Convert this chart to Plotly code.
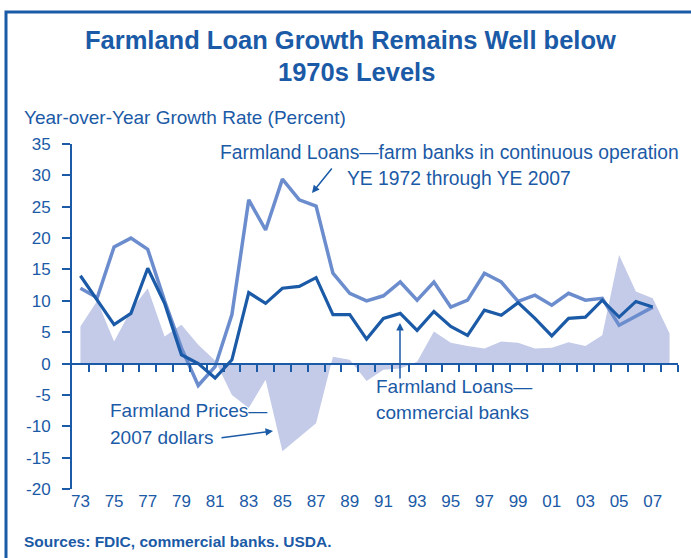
import plotly.graph_objects as go

# ---------------- data ----------------
years_loans = list(range(1973, 2008))
farm_banks = [12.0, 10.5, 18.6, 20.0, 18.2, 10.0, 2.5, -3.5, -0.5, 7.8,
              26.1, 21.3, 29.4, 26.1, 25.1, 14.4, 11.2, 10.0, 10.8, 13.0,
              10.1, 13.0, 9.0, 10.1, 14.4, 13.0, 9.9, 10.9, 9.3, 11.2,
              10.1, 10.4, 6.1, 7.6, 9.0]
commercial_banks = [14.0, 10.0, 6.2, 8.0, 15.2, 9.6, 1.4, 0.0, -2.3, 0.6,
                    11.3, 9.6, 12.0, 12.3, 13.7, 7.8, 7.8, 3.9, 7.2, 8.0,
                    5.3, 8.3, 5.9, 4.5, 8.5, 7.7, 9.7, 7.2, 4.4, 7.2,
                    7.4, 10.1, 7.4, 9.9, 9.0]
years_prices = list(range(1973, 2009))
farmland_prices = [5.9, 10.0, 3.5, 8.5, 12.0, 4.3, 6.2, 3.0, 0.5, -5.0,
                   -7.1, -2.6, -14.0, -11.7, -9.5, 1.1, 0.6, -2.8, -1.0, -0.8,
                   0.3, 5.1, 3.3, 2.8, 2.4, 3.5, 3.3, 2.4, 2.5, 3.4,
                   2.8, 4.5, 17.3, 11.5, 10.4, 4.8]
tick_years = list(range(1973, 2008, 2))
tick_labels = ["73", "75", "77", "79", "81", "83", "85", "87", "89", "91",
               "93", "95", "97", "99", "01", "03", "05", "07"]
y_ticks = [-20, -15, -10, -5, 0, 5, 10, 15, 20, 25, 30, 35]
y_tick_labels = ["-20", "-15", "-10", "-5", "0", "5", "10", "15", "20", "25", "30", "35"]

# ---------------- style ----------------
BLUE = "#1b5aa6"
LIGHT = "#6c8dcd"
AREA = "#c4cbe8"
FONT = "Liberation Sans, Arial, sans-serif"

W, H = 691, 558
L, R, T, B = 72, 13, 144, 69
PW, PH = W - L - R, H - T - B
YMIN, YMAX = -20, 35
XMIN, XMAX = 1972.5, 2008.5


def px_x(px):
    return (px - L) / PW


def px_y(py):
    return (H - B - py) / PH


def dx(px):
    return XMIN + (px - L) / PW * (XMAX - XMIN)


def dy(py):
    return YMAX - (py - T) / PH * (YMAX - YMIN)


fig = go.Figure()
fig.add_trace(go.Scatter(x=years_prices, y=farmland_prices, mode="lines",
                         line=dict(width=0, color=AREA), fill="tozeroy",
                         fillcolor=AREA, hoverinfo="skip", showlegend=False))
fig.add_trace(go.Scatter(x=years_loans, y=farm_banks, mode="lines",
                         line=dict(width=3.5, color=LIGHT), showlegend=False))
fig.add_trace(go.Scatter(x=years_loans, y=commercial_banks, mode="lines",
                         xaxis="x2", yaxis="y",
                         line=dict(width=3.2, color=BLUE), showlegend=False))

half_ticks = [y + 0.5 for y in range(1973, 2009)]

fig.update_layout(
    width=W, height=H,
    margin=dict(l=L, r=R, t=T, b=B),
    paper_bgcolor="white", plot_bgcolor="white",
    font=dict(family=FONT, color=BLUE),
    xaxis=dict(range=[XMIN, XMAX], tickvals=tick_years, ticktext=tick_labels,
               ticks="", showline=False, showgrid=False, zeroline=False,
               tickfont=dict(size=17, color=BLUE)),
    xaxis2=dict(range=[XMIN, XMAX], overlaying="x", anchor="free",
                position=(0 - YMIN) / (YMAX - YMIN),
                showline=True, linecolor=BLUE, linewidth=2,
                ticks="outside", ticklen=7, tickwidth=2, tickcolor=BLUE,
                tickvals=half_ticks, showticklabels=False,
                showgrid=False, zeroline=False),
    yaxis=dict(range=[YMIN, YMAX], tickvals=y_ticks, ticktext=y_tick_labels,
               ticks="outside",
               ticklen=8, tickwidth=2, tickcolor=BLUE, showline=True,
               linecolor=BLUE, linewidth=2, showgrid=False, zeroline=False,
               tickfont=dict(size=17, color=BLUE), ticklabelstandoff=8),
)

ann = []


def text(px, py, s, size=19, bold=False, anchor="left"):
    ann.append(dict(xref="paper", yref="paper", x=px_x(px), y=px_y(py),
                    text=("<b>%s</b>" % s) if bold else s, showarrow=False,
                    xanchor=anchor, yanchor="middle",
                    font=dict(family=FONT, size=size, color=BLUE)))


text(350, 40, "Farmland Loan Growth Remains Well below", size=25.5, bold=True, anchor="center")
text(356, 72, "1970s Levels", size=25.5, bold=True, anchor="center")
text(22, 117, "Year-over-Year Growth Rate (Percent)", size=19)
text(218, 152, "Farmland Loans—farm banks in continuous operation", size=19.3)
text(345, 178, "YE 1972 through YE 2007", size=19.3)
text(374, 386, "Farmland Loans—", size=19)
text(374, 412, "commercial banks", size=19)
text(108, 410, "Farmland Prices—", size=19)
text(108, 437, "2007 dollars", size=19)
text(22, 541, "Sources: FDIC, commercial banks. USDA.", size=15.5, bold=True)


def arrow(hx, hy, tx, ty):
    ann.append(dict(xref="x", yref="y", x=dx(hx), y=dy(hy), ax=tx - hx, ay=ty - hy,
                    axref="pixel", ayref="pixel", text="", showarrow=True,
                    arrowhead=2, arrowsize=1, arrowwidth=1.5, arrowcolor=BLUE))


arrow(312, 193, 333, 167)
arrow(400, 323, 400, 380)
arrow(273, 431, 220, 438)

fig.update_layout(annotations=ann)

fig.add_shape(type="rect", xref="paper", yref="paper",
              x0=px_x(6), x1=px_x(720), y0=px_y(600), y1=px_y(12),
              line=dict(color=BLUE, width=3), fillcolor="rgba(0,0,0,0)", layer="above")

fig.write_html(
    "out.html",
    config={"displayModeBar": False},
    post_script="document.body.style.margin='0';document.body.style.overflow='hidden';",
)
